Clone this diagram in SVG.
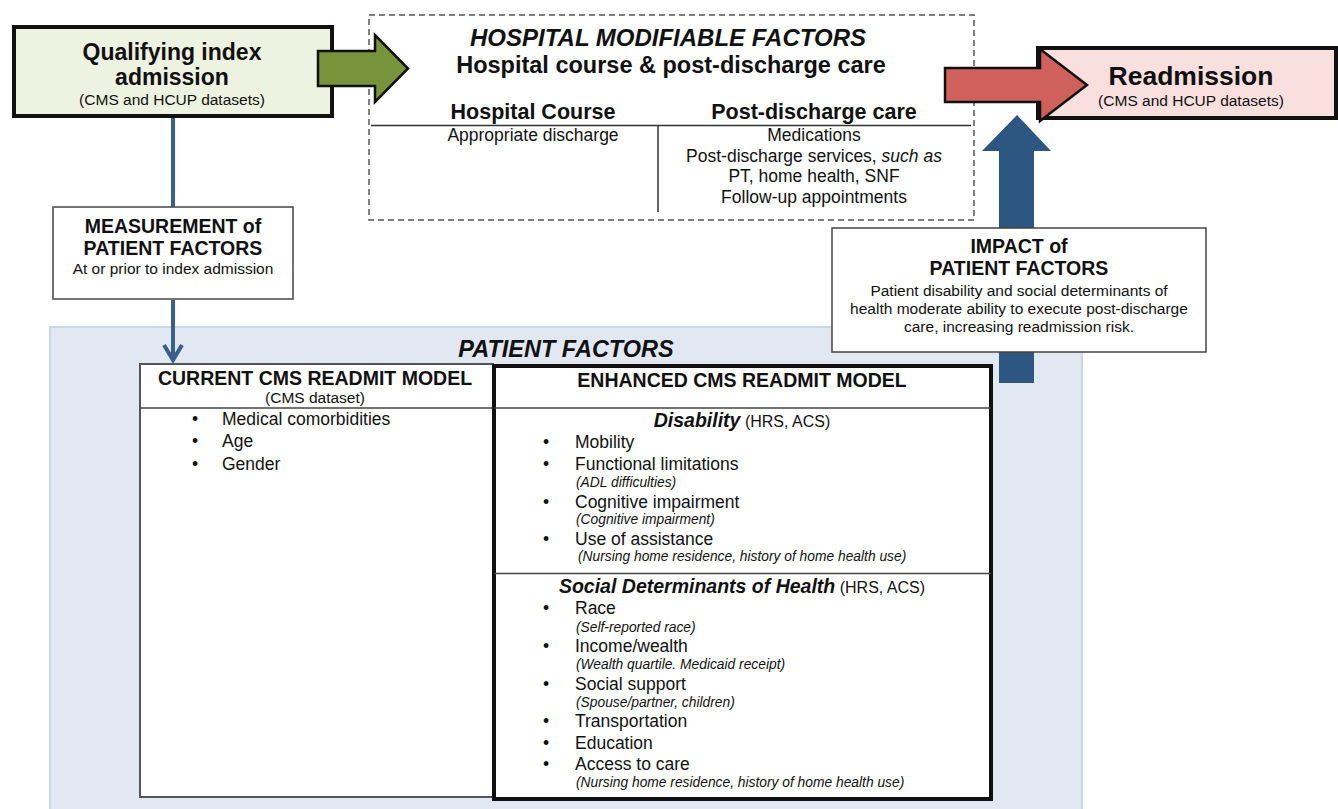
<svg xmlns="http://www.w3.org/2000/svg" width="1338" height="809" viewBox="0 0 1338 809">
<style>
text{font-family:"Liberation Sans",Arial,Helvetica,sans-serif;fill:#111}
.b{font-weight:bold}
.bi{font-weight:bold;font-style:italic}
.i{font-style:italic}
.c{text-anchor:middle}
.t17{font-size:17.5px}
.n{font-size:13.8px;font-style:italic}
.h19{font-size:19.5px;font-weight:bold}
.sub{font-size:15.5px}
.thin{fill:#fff;stroke:#444;stroke-width:1.5}
</style>
<rect width="1338" height="809" fill="#fff"/>

<!-- Patient factors background -->
<g id="patient-factors">
<rect x="50" y="327" width="1032" height="490" fill="#e2e8f2" stroke="#c6d9f1" stroke-width="2"/>
<text x="566" y="357" class="bi c" font-size="23.5">PATIENT FACTORS</text>
</g>

<!-- Hospital modifiable factors -->
<g id="hospital-factors">
<rect x="369" y="15" width="605" height="205" fill="#fff" stroke="#555" stroke-width="1.5" stroke-dasharray="6,4"/>
<text x="668" y="46" class="bi c" font-size="24">HOSPITAL MODIFIABLE FACTORS</text>
<text x="671" y="73" class="b c" font-size="23.5">Hospital course &amp; post-discharge care</text>
<text x="533" y="119" class="b c" font-size="21.5">Hospital Course</text>
<text x="814" y="119" class="b c" font-size="21.5">Post-discharge care</text>
<line x1="371" y1="125.5" x2="971" y2="125.5" stroke="#333" stroke-width="1.5"/>
<line x1="658" y1="126" x2="658" y2="212" stroke="#333" stroke-width="1.5"/>
<text x="533" y="141" class="c t17">Appropriate discharge</text>
<text x="814" y="141" class="c t17">Medications</text>
<text x="814" y="162" class="c t17">Post-discharge services, <tspan class="i">such as</tspan></text>
<text x="814" y="182" class="c t17">PT, home health, SNF</text>
<text x="814" y="203" class="c t17">Follow-up appointments</text>
</g>

<!-- Qualifying index admission -->
<g id="qualifying">
<rect x="14" y="27" width="318" height="89" fill="#eef2e1" stroke="#111" stroke-width="4"/>
<text x="172" y="60" class="b c" font-size="23">Qualifying index</text>
<text x="172" y="85" class="b c" font-size="23">admission</text>
<text x="172" y="105" class="c sub">(CMS and HCUP datasets)</text>
</g>

<!-- Readmission -->
<g id="readmission">
<rect x="1038" y="48" width="298" height="70" fill="#f9e0df" stroke="#111" stroke-width="4"/>
<text x="1191" y="85" class="b c" font-size="26.5">Readmission</text>
<text x="1191" y="106" class="c sub">(CMS and HCUP datasets)</text>
</g>

<!-- Arrows (connectors) -->
<g id="connectors">
<polygon points="318,51 375,51 375,35 408,68.5 375,102 375,86 318,86" fill="#77933c" stroke="#111" stroke-width="2.5" stroke-linejoin="miter"/>
<polygon points="945,68 1040,68 1040,49 1087,85 1040,121 1040,102 945,102" fill="#d0605c" stroke="#111" stroke-width="2.5" stroke-linejoin="miter"/>
<polygon points="999,383 999,151 982,151 1017,115 1051,151 1034,151 1034,383" fill="#2d5680"/>
<line x1="173" y1="118" x2="173" y2="207" stroke="#3a5f8c" stroke-width="4"/>
<line x1="173" y1="300" x2="173" y2="360" stroke="#3a5f8c" stroke-width="4"/>
<polyline points="164,345 173,360 182,345" fill="none" stroke="#3a5f8c" stroke-width="4" stroke-linejoin="miter"/>
</g>

<!-- Measurement -->
<g id="measurement">
<rect x="53" y="207" width="240" height="92" class="thin"/>
<text x="173" y="233" class="c h19">MEASUREMENT of</text>
<text x="173" y="255" class="c h19">PATIENT FACTORS</text>
<text x="173" y="274" class="c sub">At or prior to index admission</text>
</g>

<!-- Impact -->
<g id="impact">
<rect x="832" y="228" width="374" height="124" class="thin"/>
<text x="1019" y="253" class="c h19">IMPACT of</text>
<text x="1019" y="275" class="c h19">PATIENT FACTORS</text>
<text x="1019" y="296" class="c sub">Patient disability and social determinants of</text>
<text x="1019" y="314" class="c sub">health moderate ability to execute post-discharge</text>
<text x="1019" y="332" class="c sub">care, increasing readmission risk.</text>
</g>

<!-- Current model -->
<g id="current-model">
<rect x="140" y="364" width="353" height="433" fill="#fff" stroke="#555" stroke-width="2"/>
<text x="315" y="385" class="c h19">CURRENT CMS READMIT MODEL</text>
<text x="315" y="403" class="c sub">(CMS dataset)</text>
<line x1="140" y1="408" x2="493" y2="408" stroke="#444" stroke-width="1.5"/>
<text x="192" y="425" class="t17">•</text><text x="222" y="425" class="t17">Medical comorbidities</text>
<text x="192" y="447" class="t17">•</text><text x="222" y="447" class="t17">Age</text>
<text x="192" y="470" class="t17">•</text><text x="222" y="470" class="t17">Gender</text>
</g>

<!-- Enhanced model -->
<g id="enhanced-model">
<rect x="494" y="366" width="497" height="433" fill="#fff" stroke="#111" stroke-width="4"/>
<text x="742" y="387" class="c h19">ENHANCED CMS READMIT MODEL</text>
<line x1="494" y1="408" x2="991" y2="408" stroke="#444" stroke-width="1.5"/>
<text x="742" y="427" class="c"><tspan class="bi" font-size="19.5">Disability</tspan><tspan font-size="16"> (HRS, ACS)</tspan></text>
<text x="543" y="448" class="t17">•</text><text x="575" y="448" class="t17">Mobility</text>
<text x="543" y="470" class="t17">•</text><text x="575" y="470" class="t17">Functional limitations</text>
<text x="576" y="487" class="n">(ADL difficulties)</text>
<text x="543" y="508" class="t17">•</text><text x="575" y="508" class="t17">Cognitive impairment</text>
<text x="576" y="524" class="n">(Cognitive impairment)</text>
<text x="543" y="545" class="t17">•</text><text x="575" y="545" class="t17">Use of assistance</text>
<text x="578" y="561" class="n">(Nursing home residence, history of home health use)</text>
<line x1="494" y1="573.5" x2="991" y2="573.5" stroke="#444" stroke-width="1.5"/>
<text x="742" y="593" class="c"><tspan class="bi" font-size="19.5">Social Determinants of Health</tspan><tspan font-size="16"> (HRS, ACS)</tspan></text>
<text x="543" y="614" class="t17">•</text><text x="575" y="614" class="t17">Race</text>
<text x="576" y="632" class="n">(Self-reported race)</text>
<text x="543" y="652" class="t17">•</text><text x="575" y="652" class="t17">Income/wealth</text>
<text x="576" y="669" class="n">(Wealth quartile. Medicaid receipt)</text>
<text x="543" y="690" class="t17">•</text><text x="575" y="690" class="t17">Social support</text>
<text x="576" y="707" class="n">(Spouse/partner, children)</text>
<text x="543" y="727" class="t17">•</text><text x="575" y="727" class="t17">Transportation</text>
<text x="543" y="749" class="t17">•</text><text x="575" y="749" class="t17">Education</text>
<text x="543" y="770" class="t17">•</text><text x="575" y="770" class="t17">Access to care</text>
<text x="576" y="787" class="n">(Nursing home residence, history of home health use)</text>
</g>
</svg>
